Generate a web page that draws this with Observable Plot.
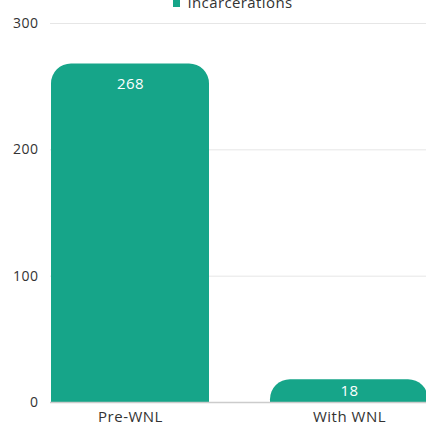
<!DOCTYPE html>
<html><head><meta charset="utf-8">
<script src="https://cdn.jsdelivr.net/npm/d3@7"></script>
<script src="https://cdn.jsdelivr.net/npm/@observablehq/plot@0.6"></script>
<style>
body{margin:0;background:#fff;font-family:"Open Sans",Lato,sans-serif;overflow:hidden}
#wrap{position:relative;width:426px;height:426px;overflow:hidden}
#legend{position:absolute;top:-8px;left:0;width:426px;text-align:center;font-size:15px;letter-spacing:0.4px;color:#333;white-space:nowrap;z-index:2;padding-left:40px;box-sizing:border-box}
#legend span.sw{display:inline-block;width:7px;height:7px;background:#16a589;margin-right:7px;vertical-align:middle}
#chart{position:absolute;top:0;left:0}
#chart svg text{font-family:"Open Sans",Lato,sans-serif}
</style></head><body>
<div id="wrap"><div id="legend"></div><div id="chart"></div></div>
<script>
const categories = ["Pre-WNL", "With WNL"];
const values = [268, 18];
const seriesName = "Incarcerations";
const yTicks = [0, 100, 200, 300];

const data = categories.map((c, i) => ({category: c, value: values[i]}));
const color = "#16a589";

document.getElementById("legend").innerHTML = `<span class="sw"></span>${seriesName}`;

const chart = Plot.plot({
  width: 426,
  height: 426,
  marginTop: 23,
  marginBottom: 24,
  marginLeft: 50,
  marginRight: -3,
  style: {fontFamily: "'Open Sans', Lato, sans-serif", fontSize: "14px", color: "#333", background: "transparent", overflow: "visible"},
  x: {domain: categories, paddingInner: 0.277, paddingOuter: 0, label: null},
  y: {domain: [0, 300], label: null},
  marks: [
    Plot.gridY(yTicks, {stroke: "#e6e6e6", strokeOpacity: 1}),
    Plot.axisY(yTicks, {tickSize: 0, tickPadding: 12, fontSize: 14, fill: "#333", label: null}),
    Plot.axisX({tickSize: 0, tickPadding: 9, fontSize: 15, fill: "#333", label: null}),
    Plot.barY(data, {x: "category", y: "value", fill: color, rx1y1: 20, rx2y1: 20}),
    Plot.ruleY([0], {stroke: "#ccc", strokeWidth: 1.5}),
    Plot.text(data.filter(d => d.value >= 50), {x: "category", y: "value", text: d => String(d.value), fill: "white", fontSize: 15, dy: 20}),
    Plot.text(data.filter(d => d.value < 50), {x: "category", y: d => d.value / 2, text: d => String(d.value), fill: "white", fontSize: 15})
  ]
});
chart.querySelectorAll("text").forEach(t => t.style.letterSpacing = "0.5px");
document.getElementById("chart").appendChild(chart);
</script>
</body></html>
